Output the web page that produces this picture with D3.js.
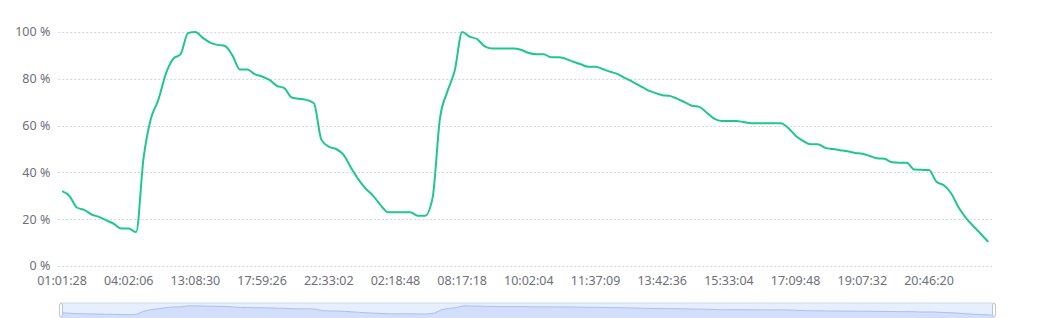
<!DOCTYPE html>
<html>
<head>
<meta charset="utf-8">
<script src="https://cdn.jsdelivr.net/npm/d3@7"></script>
<style>
    body { margin: 0; background: #fff; }
    text { font-family: "Noto Sans", sans-serif; font-size: 12.5px; fill: #6e7079; }
</style>
</head>
<body>
<div id="chart"></div>
<script>
// percentage values, one per sample
const values = [
    32, 30, 25, 24, 22, 21, 19.5, 18, 16, 16,
    14.5, 46, 63, 71, 82, 88.5, 90.5, 99.5, 100, 97.5,
    95.5, 94.5, 94, 90, 84, 84, 82, 81, 79.5, 77,
    76, 72, 71.5, 71, 69.5, 54, 51, 50, 47.5, 42,
    37, 33, 30, 26, 23, 23, 23, 23, 21.5, 21.5,
    29, 63, 74.5, 83.5, 100, 98, 97, 94, 93, 93,
    93, 93, 92.3, 91, 90.5, 90.5, 89.2, 89.2, 88.5, 87.3,
    86.2, 85.2, 85.2, 84.1, 83, 82, 80.3, 78.7, 77, 75.2,
    74, 73, 72.7, 71.5, 70, 68.5, 68, 65.5, 63, 62,
    62, 62, 61.5, 61, 61, 61, 61, 61, 59, 55.7,
    53.5, 52, 52, 50.5, 50, 49.5, 49, 48.3, 48, 47,
    46, 45.8, 44.3, 44.1, 44.1, 41.2, 41.1, 41, 36, 34.5,
    31, 25, 20.5, 17, 13.7, 10.3
];

// time labels shown on the axis (every 9th sample)
const tickLabels = [
    "01:01:28", "04:02:06", "13:08:30", "17:59:26", "22:33:02", "02:18:48", "08:17:18",
    "10:02:04", "11:37:09", "13:42:36", "15:33:04", "17:09:48", "19:07:32", "20:46:20"
];
const tickStep = 9;

const yTicks = [0, 20, 40, 60, 80, 100];

const width = 1050, height = 318;
const margin = { top: 32, right: 58, bottom: 52, left: 58.3 };

const svg = d3.select("#chart")
    .append("svg")
    .attr("width", width)
    .attr("height", height);

const x = d3.scalePoint()
    .domain(d3.range(values.length))
    .range([margin.left, width - margin.right])
    .padding(0.5);

const y = d3.scaleLinear()
    .domain([0, 100])
    .range([height - margin.bottom, margin.top]);

// dotted split lines
svg.append("g")
    .selectAll("line")
    .data(yTicks)
    .join("line")
    .attr("x1", margin.left)
    .attr("x2", width - margin.right)
    .attr("y1", d => Math.round(y(d)) + 0.5)
    .attr("y2", d => Math.round(y(d)) + 0.5)
    .attr("stroke", "#d3d6dc")
    .attr("stroke-dasharray", "2,2");

// y labels
svg.append("g")
    .selectAll("text")
    .data(yTicks)
    .join("text")
    .attr("x", margin.left - 8)
    .attr("y", d => y(d) + 4.3)
    .attr("text-anchor", "end")
    .text(d => d + " %");

// x labels
svg.append("g")
    .selectAll("text")
    .data(tickLabels)
    .join("text")
    .attr("x", (d, i) => x(i * tickStep))
    .attr("y", height - margin.bottom + 19)
    .attr("text-anchor", "middle")
    .text(d => d);

const line = d3.line()
    .x((d, i) => x(i))
    .y(d => y(d))
    .curve(d3.curveMonotoneX);

svg.append("path")
    .datum(values)
    .attr("fill", "none")
    .attr("stroke", "#1fc78f")
    .attr("stroke-width", 2)
    .attr("stroke-linejoin", "round")
    .attr("d", line);

// data zoom slider at the bottom
const slider = { left: 61, right: 994, top: 303, bottom: 318 };

const extent = d3.extent(values);
const pad = (extent[1] - extent[0]) * 0.3;

const sx = d3.scaleLinear()
    .domain([0, values.length - 1])
    .range([slider.left, slider.right]);

const sy = d3.scaleLinear()
    .domain([extent[0] - pad, extent[1] + pad])
    .range([slider.bottom, slider.top]);

const sliderG = svg.append("g").attr("class", "slider");

sliderG.append("rect")
    .attr("x", slider.left)
    .attr("y", slider.top)
    .attr("width", slider.right - slider.left)
    .attr("height", slider.bottom - slider.top + 4)
    .attr("fill", "#e7eefd")
    .attr("stroke", "#d2dbee");

sliderG.append("path")
    .datum(values)
    .attr("fill", "#d3defa")
    .attr("d", d3.area()
        .x((d, i) => sx(i))
        .y0(slider.bottom + 4)
        .y1(d => sy(d)));

sliderG.append("path")
    .datum(values)
    .attr("fill", "none")
    .attr("stroke", "#a9c1f5")
    .attr("stroke-width", 1)
    .attr("d", d3.line()
        .x((d, i) => sx(i))
        .y(d => sy(d)));

sliderG.selectAll("rect.handle")
    .data([slider.left, slider.right])
    .join("rect")
    .attr("class", "handle")
    .attr("x", d => d - 1.5)
    .attr("y", slider.top + 0.5)
    .attr("width", 3)
    .attr("height", 13)
    .attr("rx", 1.5)
    .attr("fill", "#fff")
    .attr("stroke", "#acb8d1")
    .attr("stroke-width", 0.8);
</script>
</body>
</html>
